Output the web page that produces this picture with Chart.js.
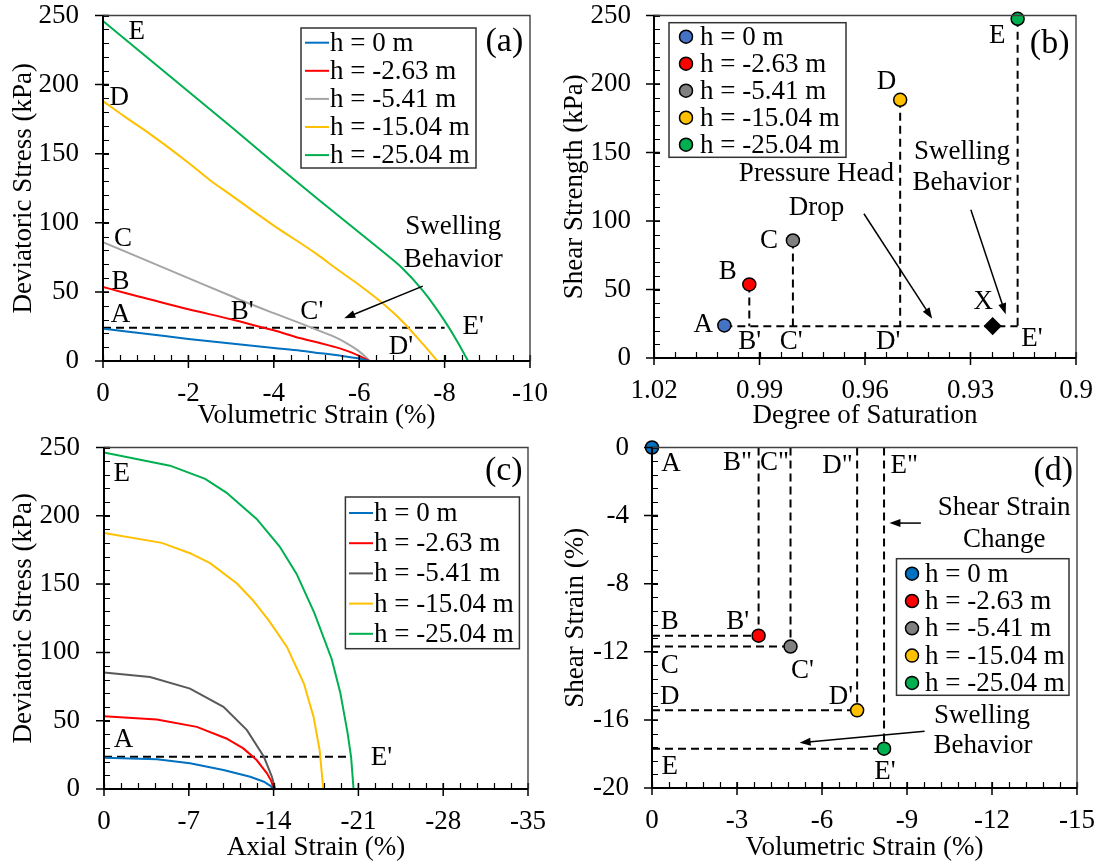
<!DOCTYPE html>
<html lang="en">
  <head>
    <meta charset="UTF-8" />
    <title>Pressure head, shear strength and strain</title>
    <script src="https://cdn.jsdelivr.net/npm/chart.js"></script>
    <style>
      body {
        margin: 0;
        background: #fff;
      }
      .grid {
        display: flex;
        flex-wrap: wrap;
        width: 1101px;
      }
      canvas {
        display: block;
      }
    </style>
  </head>
  <body>
    <div class="grid">
      <canvas id="chartA" width="550" height="432"></canvas>
      <canvas id="chartB" width="551" height="432"></canvas>
      <canvas id="chartC" width="550" height="432"></canvas>
      <canvas id="chartD" width="551" height="432"></canvas>
    </div>

    <script>
      // pressure heads, shared by all four panels
      var heads = ["h = 0 m", "h = -2.63 m", "h = -5.41 m", "h = -15.04 m", "h = -25.04 m"];
      var curveColorsA = ["#0070C0", "#FF0000", "#A5A5A5", "#FFC000", "#00B050"];
      var curveColorsC = ["#0070C0", "#FF0000", "#595959", "#FFC000", "#00B050"];
      var markerColorsB = ["#4472C4", "#FF0000", "#808080", "#FFC000", "#00B050"];
      var markerColorsD = ["#0070C0", "#FF0000", "#808080", "#FFC000", "#00B050"];

      // (a) deviatoric stress vs volumetric strain
      var volA0 = [0, -0.5, -1, -2, -3, -4, -4.63, -5.1, -5.5, -6, -6.24];
      var devA0 = [23.3, 21.6, 19.8, 16.0, 12.6, 9.4, 7.5, 5.6, 4.1, 1.8, 0];
      var volA1 = [0, -0.5, -1, -2, -3, -3.6, -4, -4.63, -5.1, -5.41, -5.7, -5.96, -6.24];
      var devA1 = [53.6, 49.4, 45.4, 37.4, 30.2, 25.3, 22.2, 16.4, 12.9, 10.3, 7.5, 4.3, 0];
      var volA2 = [0, -1, -2, -3, -3.29, -4, -4.63, -5.1, -5.41, -5.7, -5.96, -6.15, -6.24];
      var devA2 = [86, 73, 60, 47, 43.2, 34.6, 27.2, 21.4, 17.6, 13, 7.9, 3, 0];
      var volA3 = [0, -0.5, -1, -2, -2.5, -3, -4, -5, -5.5, -6, -6.5, -7, -7.5, -7.83];
      var devA3 = [188, 177, 166.5, 143.5, 131, 120, 98, 77.5, 66, 55, 43, 29, 12, 0];
      var volA4 = [0, -1, -2, -3, -4, -5, -6, -6.5, -7, -7.5, -8, -8.3, -8.55];
      var devA4 = [246, 220.5, 195, 169.5, 143.5, 118, 93, 80.5, 67.5, 50.5, 29, 14, 0];
      var guideA = [0, -8.0];
      var guideAStress = [24, 24];

      // (b) shear strength vs degree of saturation
      var saturation = [1.0, 0.9929, 0.9805, 0.95, 0.9166];
      var strength = [23.8, 53.7, 85.8, 188.5, 247.6];
      var pointX = [0.9237];
      var strengthX = [23.3];
      var swellLevel = 23.1;

      // (c) deviatoric stress vs axial strain
      var axC0 = [0, -4.36, -7.1, -9.86, -12.07, -13.2, -13.7, -14];
      var devC0 = [22.9, 21.7, 18.8, 13.9, 9, 5.3, 2.5, 0];
      var axC1 = [0, -4.36, -7.66, -10.1, -11.5, -12.6, -13.45, -13.8, -14];
      var devC1 = [53.3, 50.9, 45.5, 37, 29.7, 21.2, 11.5, 6, 0];
      var axC2 = [0, -3.8, -7.1, -9.86, -11.8, -13.2, -13.86, -14.13];
      var devC2 = [85.2, 82, 73.5, 60.1, 43.1, 23.6, 9, 0];
      var axC3 = [0, -4.77, -7.1, -8.76, -11, -12.3, -13.6, -15.1, -16.5, -17.3, -17.8, -18.1];
      var devC3 = [187.5, 180.2, 172.6, 165.3, 150.2, 138, 123.4, 104, 77.2, 52.8, 28.5, 0];
      var axC4 = [0, -5.45, -8.35, -10.1, -12.6, -14.5, -15.9, -17.36, -18.8, -19.5, -20.1, -20.4, -20.6];
      var devC4 = [246.4, 236.7, 227, 217, 197.7, 177.5, 157.5, 129, 95, 70.7, 41.5, 23.2, 0];
      var guideC = [0, -20.4];
      var guideCStress = [23.6, 23.6];

      // (d) shear strain vs volumetric strain at failure
      var volD = [0, -3.762, -4.889, -7.24, -8.19];
      var shearD = [0, -11.05, -11.69, -15.44, -17.69];

      // tick values
      var stressTicks = [0, 50, 100, 150, 200, 250];
      var volTicksA = [0, -2, -4, -6, -8, -10];
      var satTicks = [1.02, 0.99, 0.96, 0.93, 0.9];
      var axialTicks = [0, -7, -14, -21, -28, -35];
      var volTicksD = [0, -3, -6, -9, -12, -15];
      var shearTicks = [0, -4, -8, -12, -16, -20];

      var FONT_SIZE = 27;
      Chart.defaults.font.family = "'Liberation Serif', 'Times New Roman', serif";
      Chart.defaults.font.size = FONT_SIZE;
      Chart.defaults.color = "#000";
      Chart.defaults.animation = false;
      Chart.defaults.plugins.legend.display = false;
      Chart.defaults.plugins.tooltip.enabled = false;

      function pts(xs, ys) {
        return xs.map(function (x, i) {
          return { x: x, y: ys[i] };
        });
      }

      function curve(xs, ys, color, smooth) {
        return {
          data: pts(xs, ys),
          showLine: true,
          borderColor: color,
          borderWidth: 2,
          pointRadius: 0,
          fill: false,
          cubicInterpolationMode: smooth ? "monotone" : "default",
          tension: 0,
        };
      }

      function dashed(xs, ys) {
        return {
          data: pts(xs, ys),
          showLine: true,
          borderColor: "#000",
          borderWidth: 2,
          borderDash: [8, 5],
          pointRadius: 0,
          fill: false,
        };
      }

      function markers(xs, ys, colors, style, radius) {
        return {
          data: pts(xs, ys),
          showLine: false,
          clip: false,
          pointStyle: style || "circle",
          pointRadius: radius || 6.5,
          pointBackgroundColor: colors,
          pointBorderColor: "#000",
          pointBorderWidth: 1.5,
        };
      }

      // tick marks are drawn by the plugin; tickLength only spaces the labels
      function axis(min, max, ticks, title, o) {
        return {
          type: "linear",
          min: min,
          max: max,
          reverse: !!o.reverse,
          grid: { display: false, drawTicks: true, tickLength: o.tl },
          border: { display: false },
          ticks: {
            autoSkip: false,
            maxRotation: 0,
            padding: 2,
            font: { lineHeight: 1 },
            callback: function (v) {
              return String(+v.toFixed(3));
            },
          },
          title: { display: true, text: title, padding: { top: o.titlePad, bottom: o.titlePad } },
          afterBuildTicks: function (s) {
            s.ticks = ticks.map(function (v) {
              return { value: v };
            });
          },
          afterFit: function (s) {
            if (o.width) s.width = o.width;
            if (o.height) s.height = o.height;
          },
        };
      }

      function arrow(ctx, x0, y0, x1, y1) {
        var ang = Math.atan2(y1 - y0, x1 - x0);
        var head = 11,
          half = 4;
        var c = Math.cos(ang),
          s = Math.sin(ang);
        ctx.beginPath();
        ctx.moveTo(x0, y0);
        ctx.lineTo(x1 - head * 0.8 * c, y1 - head * 0.8 * s);
        ctx.stroke();
        ctx.beginPath();
        ctx.moveTo(x1, y1);
        ctx.lineTo(x1 - head * c + half * s, y1 - head * s - half * c);
        ctx.lineTo(x1 - head * c - half * s, y1 - head * s + half * c);
        ctx.closePath();
        ctx.fill();
      }

      // per-panel decoration: minor tick steps, in-plot legend, letters and arrows
      var decor = {
        chartA: {
          minorX: 0.4,
          minorY: 10,
          legend: { x: 301, y: 28, w: 175, h: 140, row0: 42.7, gap: 28.1, sym: "line", s0: 305, s1: 329, textX: 330, colors: curveColorsA },
          tag: ["(a)", -9.4, 230.7],
          labels: [
            ["E", -0.79, 238], ["D", -0.38, 190.5], ["C", -0.47, 88.7], ["B", -0.41, 57.3], ["A", -0.41, 33.2],
            ["B'", -3.26, 35.6], ["C'", -4.89, 35.8], ["D'", -6.98, 10.3], ["E'", -8.67, 24.8],
            ["Swelling", -8.2, 97], ["Behavior", -8.2, 73],
          ],
          arrows: [[-7.49, 54.2, -5.65, 30.9]],
        },
        chartB: {
          minorX: 0.006,
          minorY: 10,
          legend: { x: 119, y: 22.7, w: 177, h: 134.6, row0: 36.7, gap: 27, sym: "dot", s0: 136, textX: 150, colors: markerColorsB },
          tag: ["(b)", 0.9075, 229.3],
          labels: [
            ["E", 0.9224, 235.4], ["D", 0.9539, 201.4], ["C", 0.9873, 85.8], ["B", 0.999, 62.7], ["A", 1.006, 23.8],
            ["B'", 0.9928, 11.7], ["C'", 0.981, 11.7], ["D'", 0.9534, 11.7], ["E'", 0.9125, 14.1], ["X", 0.9264, 40.9],
            ["Pressure Head", 0.9738, 134.5], ["Drop", 0.9738, 109.7],
            ["Swelling", 0.9324, 150.3], ["Behavior", 0.9324, 127.7],
          ],
          arrows: [
            [0.9603, 105.3, 0.9409, 28.7],
            [0.9299, 108.2, 0.92, 31.9],
          ],
        },
        chartC: {
          minorX: 1.4,
          minorY: 10,
          legend: { x: 345.4, y: 65, w: 174, h: 151.7, row0: 81, gap: 30.2, sym: "line", s0: 349, s1: 373, textX: 374, colors: curveColorsC },
          tag: ["(c)", -33.0, 233],
          labels: [["E", -1.46, 230.6], ["A", -1.6, 35.8], ["E'", -22.9, 23]],
          arrows: [],
        },
        chartD: {
          minorX: 0.6,
          minorY: 0.8,
          legend: { x: 346.5, y: 126.7, w: 172.5, h: 136.6, row0: 141.7, gap: 27.3, sym: "dot", s0: 362, textX: 375, colors: markerColorsD },
          tag: ["(d)", -14.16, -1.37],
          labels: [
            ["A", -0.668, -0.98], ['B"', -3.02, -0.88], ['C"', -4.32, -0.88], ['D"', -6.55, -1.08], ['E"', -8.9, -1.08],
            ["B", -0.63, -10.26], ["B'", -3.02, -10.26], ["C", -0.63, -12.8], ["C'", -5.31, -13.1],
            ["D", -0.63, -14.66], ["D'", -6.67, -14.66], ["E", -0.63, -18.77], ["E'", -8.22, -19.06],
            ["Shear Strain", -12.43, -3.52], ["Change", -12.43, -5.42],
            ["Swelling", -11.65, -15.78], ["Behavior", -11.68, -17.5],
          ],
          arrows: [
            [-9.49, -4.44, -8.38, -4.44],
            [-9.62, -16.66, -5.21, -17.34],
          ],
        },
      };

      var panelDecor = {
        id: "panelDecor",
        afterDatasetsDraw: function (chart) {
          var d = decor[chart.canvas.id];
          var ctx = chart.ctx,
            a = chart.chartArea,
            xs = chart.scales.x,
            ys = chart.scales.y;
          var font = Chart.defaults.font.family;
          var i, p, n;
          ctx.save();

          // minor ticks, pointing into the plot
          ctx.strokeStyle = "#000";
          ctx.lineWidth = 1.2;
          ctx.beginPath();
          n = Math.round((xs.max - xs.min) / d.minorX);
          for (i = 0; i <= n; i++) {
            p = Math.round(xs.getPixelForValue(xs.min + i * d.minorX)) + 0.5;
            ctx.moveTo(p, a.bottom);
            ctx.lineTo(p, a.bottom - 6);
          }
          n = Math.round((ys.max - ys.min) / d.minorY);
          for (i = 0; i <= n; i++) {
            p = Math.round(ys.getPixelForValue(ys.min + i * d.minorY)) + 0.5;
            ctx.moveTo(a.left, p);
            ctx.lineTo(a.left + 6, p);
          }
          ctx.stroke();

          // major ticks cross the axis
          ctx.lineWidth = 1.5;
          ctx.beginPath();
          xs.ticks.forEach(function (t) {
            var px = xs.getPixelForValue(t.value);
            ctx.moveTo(px, a.bottom + 7);
            ctx.lineTo(px, a.bottom - 6);
          });
          ys.ticks.forEach(function (t) {
            var py = ys.getPixelForValue(t.value);
            ctx.moveTo(a.left - 8, py);
            ctx.lineTo(a.left + 6, py);
          });
          ctx.stroke();

          // frame: light top/right, heavy left/bottom
          ctx.strokeStyle = "#404040";
          ctx.lineWidth = 1.4;
          ctx.beginPath();
          ctx.moveTo(a.left, a.top);
          ctx.lineTo(a.right, a.top);
          ctx.lineTo(a.right, a.bottom);
          ctx.stroke();
          ctx.strokeStyle = "#000";
          ctx.lineWidth = 2;
          ctx.beginPath();
          ctx.moveTo(a.left, a.top);
          ctx.lineTo(a.left, a.bottom);
          ctx.lineTo(a.right, a.bottom);
          ctx.stroke();

          // arrows
          ctx.fillStyle = "#000";
          ctx.lineWidth = 1.5;
          d.arrows.forEach(function (r) {
            arrow(ctx, xs.getPixelForValue(r[0]), ys.getPixelForValue(r[1]), xs.getPixelForValue(r[2]), ys.getPixelForValue(r[3]));
          });

          // point letters and notes
          ctx.textAlign = "center";
          ctx.textBaseline = "middle";
          ctx.font = FONT_SIZE + "px " + font;
          d.labels.forEach(function (l) {
            ctx.fillText(l[0], xs.getPixelForValue(l[1]), ys.getPixelForValue(l[2]));
          });
          ctx.font = "34px " + font;
          ctx.fillText(d.tag[0], xs.getPixelForValue(d.tag[1]), ys.getPixelForValue(d.tag[2]));

          // legend box
          var lg = d.legend;
          ctx.fillStyle = "#fff";
          ctx.fillRect(lg.x, lg.y, lg.w, lg.h);
          ctx.strokeStyle = "#333";
          ctx.lineWidth = 1.5;
          ctx.strokeRect(lg.x, lg.y, lg.w, lg.h);
          ctx.font = FONT_SIZE + "px " + font;
          ctx.textAlign = "left";
          heads.forEach(function (label, k) {
            var cy = lg.row0 + k * lg.gap;
            if (lg.sym === "line") {
              ctx.strokeStyle = lg.colors[k];
              ctx.lineWidth = 2;
              ctx.beginPath();
              ctx.moveTo(lg.s0, cy);
              ctx.lineTo(lg.s1, cy);
              ctx.stroke();
            } else {
              ctx.fillStyle = lg.colors[k];
              ctx.strokeStyle = "#000";
              ctx.lineWidth = 1.5;
              ctx.beginPath();
              ctx.arc(lg.s0, cy, 6.5, 0, Math.PI * 2);
              ctx.fill();
              ctx.stroke();
            }
            ctx.fillStyle = "#000";
            ctx.fillText(label, lg.textX, cy + 1);
          });
          ctx.restore();
        },
      };

      function makeChart(id, datasets, scales, pad) {
        return new Chart(document.getElementById(id), {
          type: "scatter",
          data: { datasets: datasets },
          options: {
            responsive: false,
            events: [],
            layout: { padding: pad },
            scales: scales,
          },
          plugins: [panelDecor],
        });
      }

      // (a)
      makeChart(
        "chartA",
        [
          curve(volA0, devA0, curveColorsA[0], true),
          curve(volA1, devA1, curveColorsA[1], true),
          curve(volA2, devA2, curveColorsA[2], true),
          curve(volA3, devA3, curveColorsA[3], true),
          curve(volA4, devA4, curveColorsA[4], true),
          dashed(guideA, guideAStress),
        ],
        {
          x: axis(-10, 0, volTicksA, "Volumetric Strain (%)", { reverse: true, tl: 17, titlePad: 0, height: 71 }),
          y: axis(0, 250, stressTicks, "Deviatoric Stress (kPa)", { tl: 22, titlePad: 8, width: 103 }),
        },
        { top: 15, right: 19, left: 0, bottom: 0 }
      );

      // (b): markers on top, dashed drops beneath
      var dropsB = [];
      for (var i = 1; i < saturation.length; i++) {
        dropsB.push(dashed([saturation[i], saturation[i]], [strength[i], swellLevel]));
      }
      makeChart(
        "chartB",
        [
          markers(saturation, strength, markerColorsB),
          markers(pointX, strengthX, "#000", "rectRot", 8),
          dashed([saturation[0], saturation[saturation.length - 1]], [swellLevel, swellLevel]),
        ].concat(dropsB),
        {
          x: axis(0.9, 1.02, satTicks, "Degree of Saturation", { reverse: true, tl: 17, titlePad: 0, height: 74 }),
          y: axis(0, 250, stressTicks, "Shear Strength (kPa)", { tl: 21, titlePad: 9, width: 104 }),
        },
        { top: 15, right: 25, left: 0, bottom: 0 }
      );

      // (c)
      makeChart(
        "chartC",
        [
          curve(axC0, devC0, curveColorsC[0], false),
          curve(axC1, devC1, curveColorsC[1], false),
          curve(axC2, devC2, curveColorsC[2], false),
          curve(axC3, devC3, curveColorsC[3], false),
          curve(axC4, devC4, curveColorsC[4], false),
          dashed(guideC, guideCStress),
        ],
        {
          x: axis(-35, 0, axialTicks, "Axial Strain (%)", { reverse: true, tl: 17, titlePad: 0, height: 75 }),
          y: axis(0, 250, stressTicks, "Deviatoric Stress (kPa)", { tl: 22, titlePad: 8, width: 104 }),
        },
        { top: 15, right: 22, left: 0, bottom: 0 }
      );

      // (d): guides from each failure point back to both axes
      var guidesD = [];
      for (var j = 1; j < volD.length; j++) {
        guidesD.push(dashed([0, volD[j]], [shearD[j], shearD[j]]));
        guidesD.push(dashed([volD[j], volD[j]], [0, shearD[j]]));
      }
      makeChart(
        "chartD",
        [markers(volD, shearD, markerColorsD)].concat(guidesD),
        {
          x: axis(-15, 0, volTicksD, "Volumetric Strain (%)", { reverse: true, tl: 17, titlePad: 0, height: 76 }),
          y: axis(-20, 0, shearTicks, "Shear Strain (%)", { tl: 21, titlePad: 10, width: 102 }),
        },
        { top: 15, right: 24, left: 0, bottom: 0 }
      );
    </script>
  </body>
</html>
